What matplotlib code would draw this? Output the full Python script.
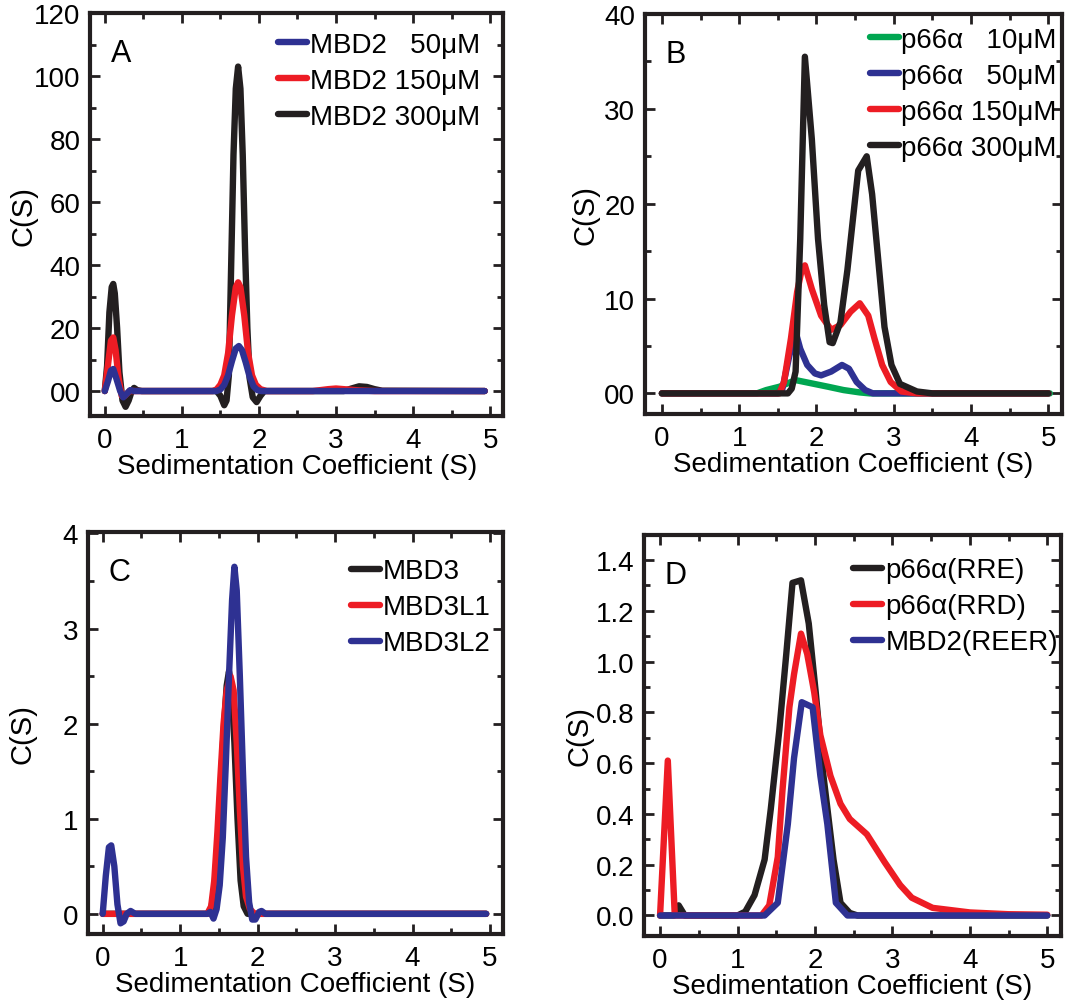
import matplotlib
matplotlib.use("Agg")
import matplotlib.pyplot as plt
from matplotlib.ticker import MultipleLocator

plt.rcParams["font.family"] = ["Liberation Sans", "DejaVu Sans"]

BLACK = "#231f20"
RED = "#ed1c24"
BLUE = "#2e3192"
GREEN = "#00a651"

# ---- panel A: MBD2 at three concentrations ----
a_x_300 = [0, 0.03, 0.06, 0.09, 0.11, 0.13, 0.16, 0.19, 0.23, 0.27, 0.31, 0.35, 0.38, 0.42, 0.48,
           1.45, 1.50, 1.55, 1.58, 1.61, 1.64, 1.67, 1.70, 1.73, 1.76, 1.79, 1.82, 1.85, 1.88,
           1.92, 1.97, 2.02, 2.07, 3.10, 3.20, 3.30, 3.40, 3.50, 3.60, 4.93]
a_y_300 = [0, 8, 25, 33, 34, 31, 20, 6, -3, -5, -3, 0, 1, 0.3, 0,
           0, -1.5, -4.5, -3, 5, 40, 75, 96, 103, 96, 75, 45, 20, 4,
           -2, -3.5, -1.5, 0, 0, 0.8, 1.5, 1.3, 0.6, 0.1, 0]
a_x_150 = [0, 0.04, 0.08, 0.11, 0.14, 0.18, 0.22, 0.26, 0.32, 0.40,
           1.40, 1.45, 1.50, 1.55, 1.60, 1.65, 1.70, 1.73, 1.76, 1.81, 1.86, 1.91, 1.96, 2.02, 2.10,
           2.70, 2.90, 3.00, 3.10, 3.30, 3.50, 4.93]
a_y_150 = [0, 8, 16, 17, 13, 4, -1.5, -1.5, 0, 0,
           0, 0.5, 2, 5, 12, 24, 33, 34.5, 33, 24, 12, 5, 2, 0.6, 0,
           0, 0.6, 0.8, 0.6, 0.2, 0, 0]
a_x_50 = [0, 0.04, 0.08, 0.11, 0.15, 0.20, 0.24, 0.28, 0.33, 0.38,
          1.45, 1.50, 1.55, 1.60, 1.65, 1.70, 1.74, 1.78, 1.83, 1.88, 1.93, 1.98, 2.03, 4.93]
a_y_50 = [0, 3, 6.5, 7, 4, 0, -2, -1, 0.3, 0,
          0, 0.5, 2, 5, 9.5, 13.5, 14.3, 13, 9, 4.5, 1.5, 0.3, 0, 0]
a_yticks = [0, 20, 40, 60, 80, 100, 120]
a_yticklabels = ["00", "20", "40", "60", "80", "100", "120"]

# ---- panel B: p66alpha at four concentrations ----
b_x_10 = [0, 1.23, 1.35, 1.52, 1.73, 1.94, 2.15, 2.35, 2.56, 2.69, 5.02]
b_y_10 = [0, 0, 0.35, 0.7, 1.4, 1.05, 0.7, 0.35, 0.1, 0, 0]
b_x_50 = [0, 1.50, 1.56, 1.65, 1.73, 1.79, 1.88, 1.98, 2.06, 2.19, 2.33, 2.42, 2.52, 2.63, 2.73, 5.0]
b_y_50 = [0, 0, 0.5, 4, 6.5, 4.7, 3, 2.1, 1.9, 2.3, 3, 2.6, 1.2, 0.35, 0, 0]
b_x_150 = [0, 1.52, 1.58, 1.67, 1.75, 1.81, 1.85, 1.94, 2.06, 2.19, 2.31, 2.44, 2.56, 2.67, 2.75,
           2.85, 2.96, 3.10, 3.30, 5.0]
b_y_150 = [0, 0, 1.2, 5.8, 10.7, 13.1, 13.5, 11, 8.2, 6.7, 7.2, 8.6, 9.5, 8.2, 5.8,
           3, 1.2, 0.2, 0, 0]
b_x_300 = [0, 1.63, 1.68, 1.73, 1.79, 1.85, 1.94, 2.02, 2.10, 2.17, 2.21, 2.31, 2.40, 2.48, 2.54,
           2.65, 2.72, 2.80, 2.88, 2.97, 3.08, 3.30, 3.50, 5.0]
b_y_300 = [0, 0, 0.5, 2.3, 16.3, 35.5, 26.8, 16.3, 9.3, 5.4, 5.3, 7.5, 13, 19, 23.5,
           25, 21, 14, 7, 3, 1, 0.2, 0, 0]
b_yticks = [0, 10, 20, 30, 40]
b_yticklabels = ["00", "10", "20", "30", "40"]

# ---- panel C: MBD3 paralogs ----
c_x_mbd3 = [0, 1.35, 1.40, 1.44, 1.48, 1.52, 1.56, 1.60, 1.63, 1.66, 1.70, 1.74, 1.78, 1.82, 1.87, 4.95]
c_y_mbd3 = [0, 0, 0.05, 0.25, 0.7, 1.3, 1.9, 2.4, 2.55, 2.4, 1.8, 1.0, 0.35, 0.08, 0, 0]
c_x_l1 = [0, 0.35, 1.35, 1.40, 1.44, 1.48, 1.52, 1.56, 1.60, 1.65, 1.69, 1.73, 1.77, 1.81, 1.85,
          1.90, 1.96, 4.95]
c_y_l1 = [0, 0, 0, 0.08, 0.35, 0.85, 1.45, 2.0, 2.35, 2.5, 2.35, 1.8, 1.1, 0.5, 0.18,
          0.05, 0, 0]
c_x_l2 = [0, 0.04, 0.08, 0.11, 0.15, 0.19, 0.23, 0.27, 0.31, 0.36, 0.42,
          1.35, 1.39, 1.43, 1.47, 1.51, 1.55, 1.59, 1.63, 1.67, 1.70, 1.73, 1.77, 1.81, 1.85,
          1.89, 1.93, 1.97, 2.02, 2.05, 2.10, 4.95]
c_y_l2 = [0, 0.4, 0.7, 0.72, 0.5, 0.1, -0.1, -0.08, 0, 0.03, 0,
          0, 0.02, -0.05, 0.05, 0.3, 0.8, 1.6, 2.5, 3.3, 3.65, 3.4, 2.5, 1.5, 0.6,
          0.12, -0.06, -0.06, 0.02, 0.03, 0, 0]
c_yticks = [0, 1, 2, 3, 4]
c_yticklabels = ["0", "1", "2", "3", "4"]

# ---- panel D: charge mutants ----
d_x_rre = [0, 0.18, 0.24, 0.32, 1.0, 1.10, 1.22, 1.35, 1.43, 1.54, 1.63, 1.71, 1.82,
           1.92, 2.01, 2.11, 2.24, 2.33, 2.45, 2.55, 5.0]
d_y_rre = [0, 0, 0.04, 0, 0, 0.015, 0.08, 0.22, 0.42, 0.73, 1.03, 1.31, 1.32,
           1.15, 0.88, 0.55, 0.22, 0.05, 0.01, 0, 0]
d_x_rrd = [0, 0.10, 0.19, 1.31, 1.41, 1.52, 1.58, 1.67, 1.73, 1.82, 1.90, 1.99, 2.07, 2.20, 2.33,
           2.45, 2.67, 2.90, 3.10, 3.25, 3.52, 4.00, 4.50, 5.0]
d_y_rrd = [0, 0.61, 0, 0, 0.04, 0.23, 0.49, 0.82, 0.95, 1.11, 1.03, 0.88, 0.71, 0.55, 0.44,
           0.38, 0.32, 0.21, 0.12, 0.07, 0.03, 0.012, 0.005, 0.003]
d_x_reer = [0, 1.35, 1.52, 1.65, 1.73, 1.83, 1.97, 2.07, 2.16, 2.27, 2.42, 5.0]
d_y_reer = [0, 0, 0.05, 0.36, 0.62, 0.84, 0.82, 0.55, 0.36, 0.05, 0, 0]
d_yticks = [0, 0.2, 0.4, 0.6, 0.8, 1.0, 1.2, 1.4]
d_yticklabels = ["0.0", "0.2", "0.4", "0.6", "0.8", "1.0", "1.2", "1.4"]

xticks = [0, 1, 2, 3, 4, 5]

LW = 4.6
FS = 20

fig = plt.figure(figsize=(10.73, 10.03), dpi=100)
axA = fig.add_axes([0.084, 0.584, 0.385, 0.402])
axB = fig.add_axes([0.601, 0.586, 0.389, 0.399])
axC = fig.add_axes([0.082, 0.068, 0.387, 0.401])
axD = fig.add_axes([0.600, 0.066, 0.389, 0.400])


def style(ax, ylim, yticks, yticklabels, yminor, letter, xlim=(-0.19, 5.17)):
    ax.set_xlim(*xlim)
    ax.set_ylim(*ylim)
    ax.set_xticks(xticks)
    ax.set_xticklabels([str(t) for t in xticks])
    ax.set_yticks(yticks)
    ax.set_yticklabels(yticklabels)
    ax.xaxis.set_minor_locator(MultipleLocator(0.5))
    ax.yaxis.set_minor_locator(MultipleLocator(yminor))
    ax.tick_params(which="both", direction="in", top=True, right=True,
                   width=2, labelsize=FS, color=BLACK)
    ax.tick_params(which="major", length=7)
    ax.tick_params(which="minor", length=4)
    ax.tick_params(axis="x", pad=8)
    ax.tick_params(axis="y", pad=7)
    for s in ax.spines.values():
        s.set_linewidth(3)
        s.set_color(BLACK)
    ax.set_xlabel("Sedimentation Coefficient (S)", fontsize=FS, labelpad=0)
    ax.set_ylabel("C(S)", fontsize=FS + 1)
    ax.text(0.05, 0.9, letter, transform=ax.transAxes, fontsize=22, va="center")


def lines(ax, series):
    handles = {}
    for xs, ys, color, label in series:
        h, = ax.plot(xs, ys, color=color, lw=LW, label=label,
                     solid_joinstyle="round", solid_capstyle="round")
        handles[label] = h
    return handles


leg_kw = dict(loc="upper right", frameon=False, fontsize=FS,
              handlelength=1.05, handletextpad=0.1, labelspacing=0.36,
              borderaxespad=0.2)

# A
h = lines(axA, [(a_x_300, a_y_300, BLACK, "MBD2 300μM"),
                (a_x_150, a_y_150, RED, "MBD2 150μM"),
                (a_x_50, a_y_50, BLUE, "MBD2   50μM")])
axA.legend([h["MBD2   50μM"], h["MBD2 150μM"], h["MBD2 300μM"]],
           ["MBD2   50μM", "MBD2 150μM", "MBD2 300μM"],
           bbox_to_anchor=(0.985, 0.995), **leg_kw)
style(axA, (-8, 120), a_yticks, a_yticklabels, 10, "A")
axA.yaxis.set_label_coords(-0.128, 0.5)

# B
h = lines(axB, [(b_x_10, b_y_10, GREEN, "p66α   10μM"),
                (b_x_50, b_y_50, BLUE, "p66α   50μM"),
                (b_x_150, b_y_150, RED, "p66α 150μM"),
                (b_x_300, b_y_300, BLACK, "p66α 300μM")])
axB.legend(bbox_to_anchor=(1.027, 1.01), **leg_kw)
style(axB, (-2.2, 40), b_yticks, b_yticklabels, 5, "B", xlim=(-0.22, 5.18))
axB.yaxis.set_label_coords(-0.108, 0.5)

# C
h = lines(axC, [(c_x_mbd3, c_y_mbd3, BLACK, "MBD3"),
                (c_x_l1, c_y_l1, RED, "MBD3L1"),
                (c_x_l2, c_y_l2, BLUE, "MBD3L2")])
axC.legend(bbox_to_anchor=(1.01, 0.975), **leg_kw)
style(axC, (-0.21, 4.02), c_yticks, c_yticklabels, 0.5, "C")
axC.yaxis.set_label_coords(-0.123, 0.5)

# D
h = lines(axD, [(d_x_rre, d_y_rre, BLACK, "p66α(RRE)"),
                (d_x_rrd, d_y_rrd, RED, "p66α(RRD)"),
                (d_x_reer, d_y_reer, BLUE, "MBD2(REER)")])
axD.legend(bbox_to_anchor=(1.032, 0.985), **leg_kw)
style(axD, (-0.08, 1.5), d_yticks, d_yticklabels, 0.1, "D", xlim=(-0.21, 5.18))
axD.yaxis.set_label_coords(-0.12, 0.5)

fig.savefig("out.png", dpi=100)
